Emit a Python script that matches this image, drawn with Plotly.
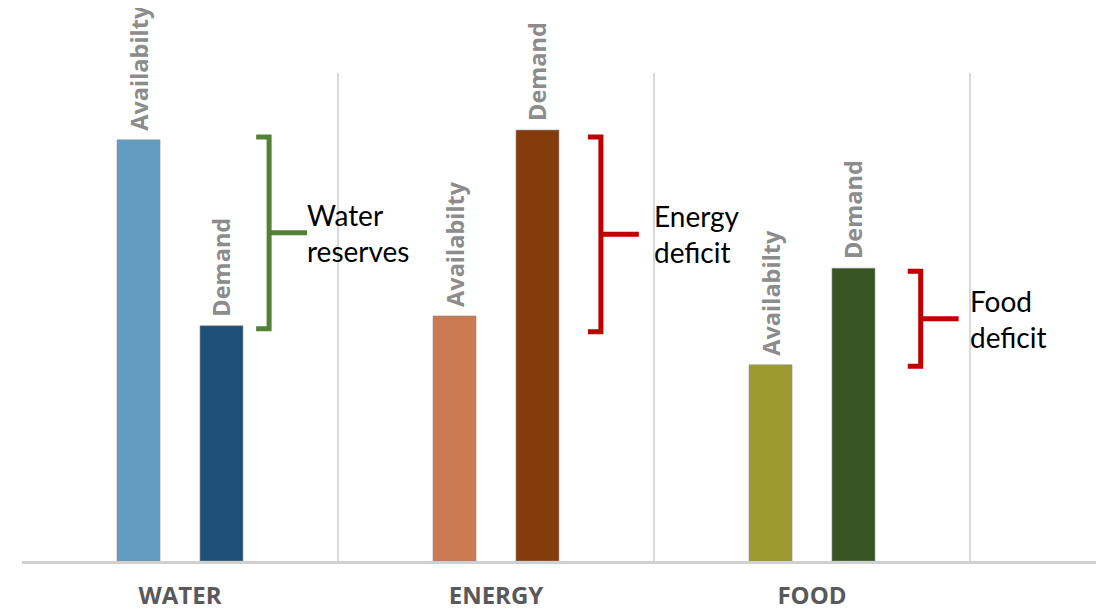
import plotly.graph_objects as go

categories = ["WATER", "ENERGY", "FOOD"]
availability = [86.3, 50.2, 40.2]
demand = [48.2, 88.3, 60.0]
avail_colors = ["#629CC1", "#CC7A52", "#9C9A30"]
demand_colors = ["#1F4E79", "#843C0C", "#375623"]

brace_low = [47.6, 47.0, 39.9]
brace_high = [86.9, 86.9, 59.4]
brace_labels = ["Water<br>reserves", "Energy<br>deficit", "Food<br>deficit"]
brace_colors = ["#548235", "#C00000", "#C00000"]
brace_offsets = [0.282, 0.332, 0.344]
label_offsets = [0.397, 0.495, 0.494]

bar_font = dict(family="Open Sans", size=23.5, color="#8C8C8C", weight="bold")

fig = go.Figure()
fig.add_trace(go.Bar(
    x=categories, y=availability, name="Availability",
    marker=dict(color=avail_colors, line=dict(color="rgba(140,140,140,0.6)", width=1)),
    text=["\u00a0Availabilty"] * len(categories), textposition="outside", textangle=-90,
    textfont=bar_font, constraintext="none", cliponaxis=False,
))
fig.add_trace(go.Bar(
    x=categories, y=demand, name="Demand",
    marker=dict(color=demand_colors, line=dict(color="rgba(140,140,140,0.6)", width=1)),
    text=["\u00a0Demand"] * len(categories), textposition="outside", textangle=-90,
    textfont=bar_font, constraintext="none", cliponaxis=False,
))

hook = 0.041
stem = 0.12
shapes = []
annotations = []
for i, cat in enumerate(categories):
    vx = i + brace_offsets[i]
    lo, hi = brace_low[i], brace_high[i]
    mid = (lo + hi) / 2
    path = (f"M {vx - hook},{hi} L {vx},{hi} L {vx},{lo} L {vx - hook},{lo} "
            f"M {vx},{mid} L {vx + stem},{mid}")
    shapes.append(dict(type="path", xref="x", yref="y", path=path,
                       line=dict(color=brace_colors[i], width=5)))
    annotations.append(dict(x=i + label_offsets[i], y=mid, xref="x", yref="y",
                            text=brace_labels[i], showarrow=False,
                            xanchor="left", yanchor="middle", align="left",
                            font=dict(family="Lato", size=28, color="#000000")))

fig.update_layout(
    width=1096, height=602,
    margin=dict(l=14, r=0, t=65, b=49),
    paper_bgcolor="white", plot_bgcolor="white",
    barmode="group", bargap=0.475, bargroupgap=0.482,
    showlegend=False,
    shapes=shapes, annotations=annotations,
    xaxis=dict(
        range=[-0.5, -0.5 + 1082 / 316], automargin=False,
        tickson="boundaries", showgrid=True, gridcolor="#D9D9D9", gridwidth=1.5,
        showline=True, linecolor="#D0D0D0", linewidth=2.5,
        ticks="", ticklen=0, ticklabelstandoff=11,
        tickfont=dict(family="Open Sans", size=24, color="#595959", weight="bold"),
    ),
    yaxis=dict(range=[0, 100], visible=False, showgrid=False, zeroline=False),
)

fig.write_html("out.html")
